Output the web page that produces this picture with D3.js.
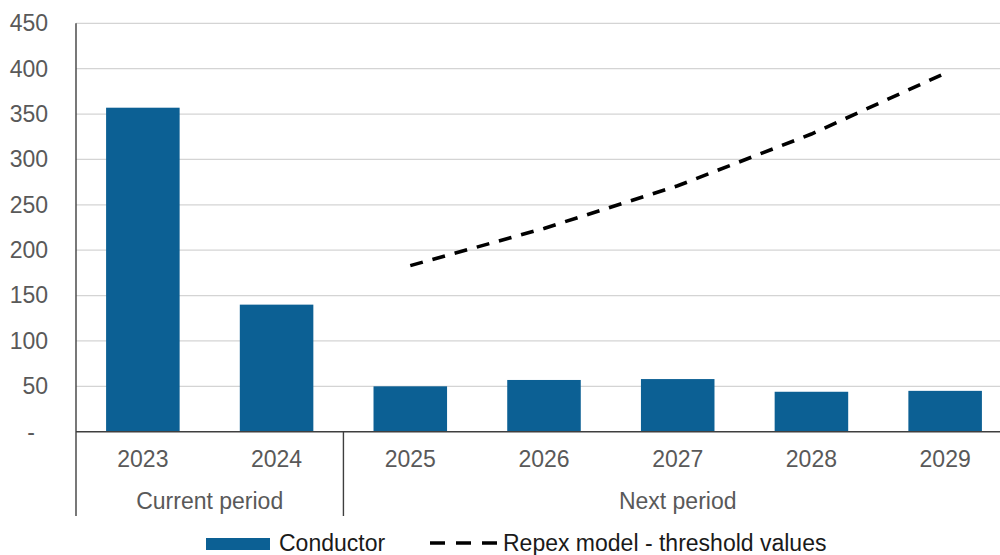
<!DOCTYPE html>
<html>
<head>
<meta charset="utf-8">
<script src="https://cdn.jsdelivr.net/npm/d3@7"></script>
<style>
  html, body { margin: 0; padding: 0; background: #fff; }
  svg { display: block; font-family: "Liberation Sans", Arial, sans-serif; }
</style>
</head>
<body>
<svg id="chart" width="1000" height="555"></svg>
<script>
// Annual conductor replacement volumes and the Repex model threshold
const years = ["2023", "2024", "2025", "2026", "2027", "2028", "2029"];
const conductor = [357, 140, 50, 57, 58, 44, 45];
const thresholdYears = ["2025", "2026", "2027", "2028", "2029"];
const thresholdValues = [183, 224, 271, 328, 395];
const periods = ["Current period", "Next period"];
const periodYears = [["2023", "2024"], ["2025", "2026", "2027", "2028", "2029"]];
const yTicks = [0, 50, 100, 150, 200, 250, 300, 350, 400, 450];
const yTickLabels = ["-", "50", "100", "150", "200", "250", "300", "350", "400", "450"];
const legendLabels = ["Conductor", "Repex model - threshold values"];

const svg = d3.select("#chart");
const plotLeft = 76, plotRight = 1012, plotTop = 23.3, plotBottom = 431.7;
const barColor = "#0c6094";
const textColor = "#595959";
const fontSize = "23px";

const x = d3.scaleBand().domain(years).range([plotLeft, plotRight])
  .paddingInner(0.45).paddingOuter(0.225);
const y = d3.scaleLinear().domain([0, 450]).range([plotBottom, plotTop]);

// horizontal gridlines
svg.append("g")
  .selectAll("line")
  .data(yTicks.filter(d => d > 0))
  .join("line")
  .attr("x1", plotLeft).attr("x2", plotRight)
  .attr("y1", d => y(d)).attr("y2", d => y(d))
  .attr("stroke", "#d4d4d4").attr("stroke-width", 1.3);

// y axis labels
const yAxis = d3.axisLeft(y).tickValues(yTicks)
  .tickFormat((d, i) => yTickLabels[i]).tickSize(0).tickPadding(0);
const yg = svg.append("g").attr("transform", "translate(48,0)").call(yAxis);
yg.select(".domain").remove();
yg.selectAll("text")
  .attr("fill", textColor)
  .style("font-size", fontSize)
  .style("font-family", "'Liberation Sans', Arial, sans-serif")
  .attr("dx", d => d === 0 ? -13 : 0);

// bars
svg.append("g")
  .selectAll("rect")
  .data(years.map((yr, i) => ({ yr, v: conductor[i] })))
  .join("rect")
  .attr("x", d => x(d.yr))
  .attr("width", x.bandwidth())
  .attr("y", d => y(d.v))
  .attr("height", d => y(0) - y(d.v))
  .attr("fill", barColor);

// threshold line
const line = d3.line()
  .x(d => x(d.yr) + x.bandwidth() / 2)
  .y(d => y(d.v));
svg.append("path")
  .datum(thresholdYears.map((yr, i) => ({ yr, v: thresholdValues[i] })))
  .attr("d", line)
  .attr("fill", "none")
  .attr("stroke", "#000")
  .attr("stroke-width", 3.6)
  .attr("stroke-dasharray", "13,10");

// axis lines
const axisColor = "#3f3f3f";
svg.append("line")
  .attr("x1", plotLeft).attr("x2", plotRight)
  .attr("y1", y(0)).attr("y2", y(0))
  .attr("stroke", axisColor).attr("stroke-width", 1.4);
svg.append("line")
  .attr("x1", plotLeft).attr("x2", plotLeft)
  .attr("y1", plotTop).attr("y2", 516)
  .attr("stroke", axisColor).attr("stroke-width", 1.4);

// period boundaries on the category axis
const step = x.step();
const halfGap = x.paddingInner() * step / 2;
const periodBounds = periodYears.map(ys => [
  x(ys[0]) - halfGap,
  x(ys[ys.length - 1]) + x.bandwidth() + halfGap
]);
svg.append("g")
  .selectAll("line")
  .data(periodBounds.slice(1))
  .join("line")
  .attr("x1", d => d[0]).attr("x2", d => d[0])
  .attr("y1", y(0)).attr("y2", 516)
  .attr("stroke", axisColor).attr("stroke-width", 1.4);

// year labels
svg.append("g")
  .selectAll("text")
  .data(years)
  .join("text")
  .attr("x", d => x(d) + x.bandwidth() / 2)
  .attr("y", 467)
  .attr("text-anchor", "middle")
  .attr("fill", textColor)
  .style("font-size", fontSize)
  .text(d => d);

// period labels
svg.append("g")
  .selectAll("text")
  .data(periods)
  .join("text")
  .attr("x", (d, i) => (periodBounds[i][0] + periodBounds[i][1]) / 2)
  .attr("y", 509)
  .attr("text-anchor", "middle")
  .attr("fill", textColor)
  .style("font-size", fontSize)
  .text(d => d);

// legend
const lg = svg.append("g");
lg.append("rect")
  .attr("x", 206).attr("y", 538).attr("width", 64).attr("height", 12)
  .attr("fill", barColor);
lg.append("text")
  .attr("x", 279).attr("y", 551)
  .attr("fill", "#1a1a1a")
  .style("font-size", fontSize)
  .text(legendLabels[0]);
lg.append("line")
  .attr("x1", 430).attr("x2", 497)
  .attr("y1", 543).attr("y2", 543)
  .attr("stroke", "#000").attr("stroke-width", 3.6)
  .attr("stroke-dasharray", "15,11");
lg.append("text")
  .attr("x", 503).attr("y", 551)
  .attr("fill", "#1a1a1a")
  .style("font-size", fontSize)
  .text(legendLabels[1]);
</script>
</body>
</html>
